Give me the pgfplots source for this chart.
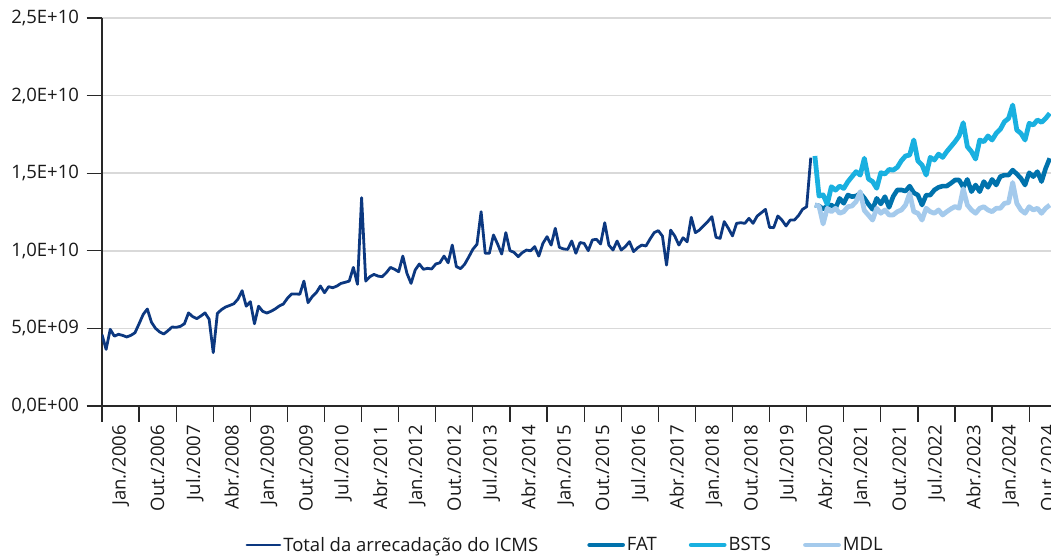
\documentclass[border=0pt]{standalone}
\usepackage{fontspec}
\setmainfont{Open Sans}
\usepackage{pgfplots}
\pgfplotsset{compat=1.18}
\usepackage{pgfplotstable}
\definecolor{totalc}{RGB}{12,56,128}
\definecolor{fatc}{RGB}{0,114,172}
\definecolor{bstsc}{RGB}{25,176,224}
\definecolor{mdlc}{RGB}{164,202,236}
\definecolor{gridc}{RGB}{217,217,217}
\definecolor{axisc}{RGB}{40,40,40}
\definecolor{textc}{RGB}{25,25,25}
% values in units of 1E+09; i = month index from Jan./2006
\pgfplotstableread{
i v
0 4.60
1 3.65
2 4.94
3 4.50
4 4.62
5 4.55
6 4.45
7 4.55
8 4.72
9 5.30
10 5.90
11 6.25
12 5.40
13 5.00
14 4.77
15 4.64
16 4.85
17 5.09
18 5.07
19 5.13
20 5.30
21 6.00
22 5.76
23 5.63
24 5.80
25 6.00
26 5.59
27 3.44
28 5.97
29 6.21
30 6.38
31 6.48
32 6.59
33 6.89
34 7.43
35 6.43
36 6.72
37 5.30
38 6.43
39 6.10
40 5.99
41 6.10
42 6.25
43 6.44
44 6.57
45 6.94
46 7.22
47 7.22
48 7.20
49 8.05
50 6.66
51 7.04
52 7.30
53 7.73
54 7.30
55 7.69
56 7.62
57 7.73
58 7.90
59 7.97
60 8.05
61 8.93
62 7.84
63 13.42
64 8.05
65 8.33
66 8.48
67 8.37
68 8.33
69 8.59
70 8.93
71 8.81
72 8.65
73 9.66
74 8.55
75 7.90
76 8.76
77 9.15
78 8.81
79 8.87
80 8.83
81 9.15
82 9.23
83 9.66
84 9.23
85 10.37
86 8.98
87 8.85
88 9.13
89 9.60
90 10.10
91 10.42
92 12.52
93 9.84
94 9.84
95 11.02
96 10.44
97 9.79
98 11.17
99 10.01
100 9.90
101 9.62
102 9.88
103 10.05
104 10.00
105 10.27
106 9.66
107 10.48
108 10.91
109 10.37
110 11.45
111 10.22
112 10.12
113 10.09
114 10.63
115 9.84
116 10.53
117 10.48
118 10.01
119 10.70
120 10.74
121 10.44
122 11.81
123 10.37
124 10.05
125 10.63
126 10.05
127 10.27
128 10.59
129 9.95
130 10.20
131 10.37
132 10.31
133 10.76
134 11.17
135 11.30
136 10.95
137 9.08
138 11.33
139 10.95
140 10.37
141 10.84
142 10.58
143 12.16
144 11.17
145 11.34
146 11.62
147 11.88
148 12.20
149 10.87
150 10.80
151 11.88
152 11.45
153 10.96
154 11.77
155 11.81
156 11.77
157 12.09
158 11.77
159 12.24
160 12.45
161 12.67
162 11.51
163 11.49
164 12.24
165 11.98
166 11.60
167 11.98
168 11.98
169 12.26
170 12.67
171 12.84
172 16.00
}\totaltable
\pgfplotstableread{
i fat bsts mdl
173 12.95 16.11 12.95
174 12.89 13.53 12.89
175 12.70 13.60 11.73
176 12.89 13.00 12.74
177 12.95 14.13 12.52
178 12.74 13.91 12.74
179 13.38 14.17 12.42
180 13.06 14.02 12.52
181 13.59 14.45 12.84
182 13.49 14.78 12.89
183 13.53 15.10 13.17
184 13.70 14.88 13.81
185 13.40 15.96 12.60
186 13.00 14.63 12.30
187 12.67 14.46 11.98
188 13.38 14.03 12.74
189 13.02 15.03 12.42
190 13.49 14.95 12.63
191 12.80 15.24 12.31
192 13.50 15.20 12.31
193 13.92 15.38 12.52
194 13.92 15.81 12.63
195 13.85 16.11 12.95
196 14.17 16.17 13.70
197 13.74 17.14 12.52
198 13.59 15.79 12.42
199 12.95 15.53 11.98
200 13.59 14.88 12.74
201 13.59 16.02 12.52
202 13.92 15.85 12.42
203 14.09 16.23 12.63
204 14.17 16.02 12.31
205 14.17 16.39 12.52
206 14.35 16.71 12.70
207 14.56 17.03 12.85
208 14.56 17.40 12.74
209 14.10 18.25 14.00
210 14.60 16.71 12.95
211 13.81 16.39 12.63
212 14.24 15.91 12.42
213 13.81 17.14 12.74
214 14.46 17.03 12.84
215 14.09 17.40 12.63
216 14.60 17.14 12.52
217 14.24 17.57 12.74
218 14.78 17.83 12.74
219 14.88 18.32 13.06
220 14.88 18.53 13.10
221 15.20 19.39 14.40
222 14.95 17.78 13.06
223 14.67 17.57 12.63
224 14.24 17.14 12.42
225 15.03 18.21 12.84
226 14.78 18.11 12.63
227 15.10 18.43 12.74
228 14.46 18.28 12.42
229 15.31 18.53 12.74
230 15.96 18.86 12.95
}\fcsttable
\begin{document}
\begin{tikzpicture}
\begin{axis}[
  at={(0,0)}, anchor=south west,
  scale only axis, width=949pt, height=388pt,
  xmin=0, xmax=230.3, ymin=0, ymax=25,
  axis x line*=bottom, axis y line*=left,
  axis line style={line width=1.4pt, draw=axisc},
  tick align=outside, major tick length=15.5pt,
  tick style={line width=1.2pt, draw=axisc},
  xtick={0,9,...,225},
  xticklabels={Jan./2006,Out./2006,Jul./2007,Abr./2008,Jan./2009,Out./2009,Jul./2010,Abr./2011,Jan./2012,Out./2012,Jul./2013,Abr./2014,Jan./2015,Out./2015,Jul./2016,Abr./2017,Jan./2018,Out./2018,Jul./2019,Abr./2020,Jan./2021,Out./2021,Jul./2022,Abr./2023,Jan./2024,Out./2024},
  xticklabel style={xshift=18.54pt, rotate=90, anchor=east},
  ytick={0,5,10,15,20,25},
  yticklabels={{0,0E+00},{5,0E+09},{1,0E+10},{1,5E+10},{2,0E+10},{2,5E+10}},
  yticklabel style={xshift=-4pt},
  ymajorgrids, grid style={draw=gridc, line width=1.5pt},
  tick label style={font=\fontsize{18.5}{22}\selectfont, text=textc},
  legend columns=4,
  legend style={at={(0.488,-0.358)}, anchor=center, draw=none, fill=none,
    font=\fontsize{18.5}{22}\selectfont, text=textc,
    /tikz/every even column/.append style={column sep=30pt}},
  legend image code/.code={\draw[#1, line cap=round] (0pt,0pt) -- (33pt,0pt);},
]
\addplot[totalc, line width=2.8pt, line join=round] table[x=i, y=v] {\totaltable};
\addlegendentry{Total da arrecadação do ICMS\kern17pt}
\addplot[fatc, line width=4.6pt, line join=round] table[x=i, y=fat] {\fcsttable};
\addlegendentry{FAT}
\addplot[bstsc, line width=4.8pt, line join=round] table[x=i, y=bsts] {\fcsttable};
\addlegendentry{BSTS}
\addplot[mdlc, line width=4.8pt, line join=round] table[x=i, y=mdl] {\fcsttable};
\addlegendentry{MDL}
\end{axis}
\pgfresetboundingbox
\path[use as bounding box] (-102pt,-149pt) rectangle (949pt,406pt);
\end{tikzpicture}
\end{document}
